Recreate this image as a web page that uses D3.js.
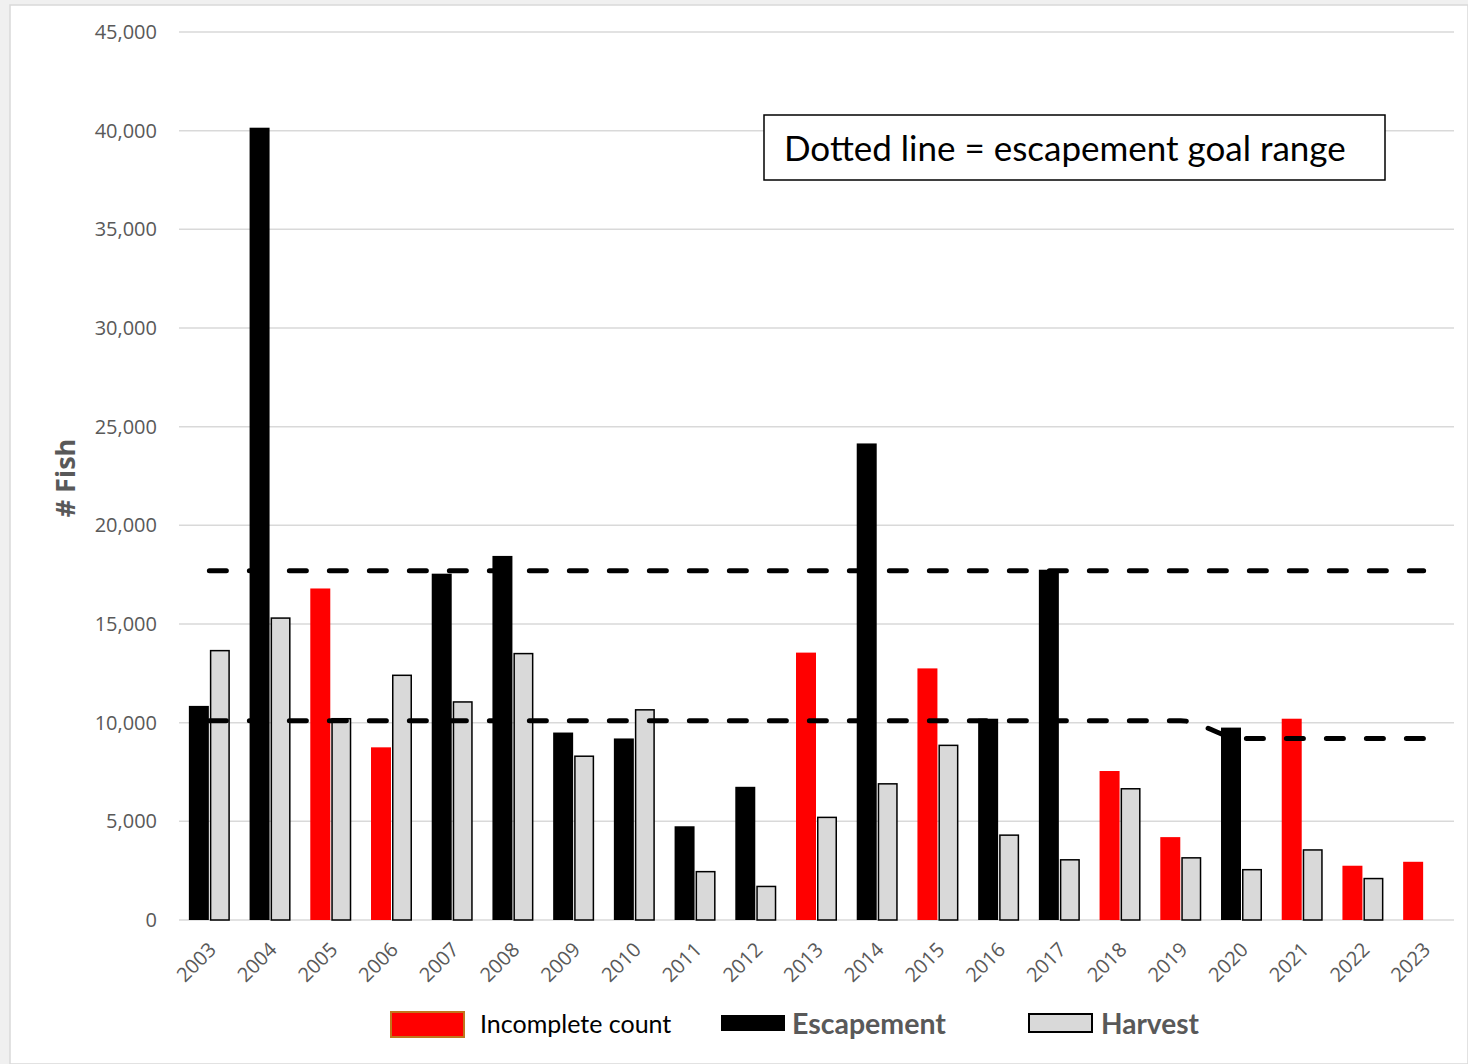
<!DOCTYPE html>
<html>
<head>
<meta charset="utf-8">
<script src="https://cdn.jsdelivr.net/npm/d3@7"></script>
<style>
  html, body { margin: 0; padding: 0; background: #f0f0f0; }
  svg { display: block; }
</style>
</head>
<body>
<svg id="chart" width="1468" height="1064"></svg>
<script>
// Run years
const years = ["2003","2004","2005","2006","2007","2008","2009","2010","2011","2012","2013",
               "2014","2015","2016","2017","2018","2019","2020","2021","2022","2023"];
// Escapement counts
const escapement = [10850, 40150, 16800, 8750, 17550, 18450, 9500, 9200, 4750, 6750, 13550,
                    24150, 12750, 10200, 17750, 7550, 4200, 9750, 10200, 2750, 2950];
// Years where the escapement count was incomplete
const incomplete = [false, false, true, true, false, false, false, false, false, false, true,
                    false, true, false, false, true, true, false, true, true, true];
// Harvest
const harvest = [13650, 15300, 10200, 12400, 11050, 13500, 8300, 10650, 2450, 1700, 5200,
                 6900, 8850, 4300, 3050, 6650, 3150, 2550, 3550, 2100, null];
// Escapement goal range
const goalLower = [10100, 10100, 10100, 10100, 10100, 10100, 10100, 10100, 10100, 10100, 10100,
                   10100, 10100, 10100, 10100, 10100, 10100, 9200, 9200, 9200, 9200];
const goalUpper = [17700, 17700, 17700, 17700, 17700, 17700, 17700, 17700, 17700, 17700, 17700,
                   17700, 17700, 17700, 17700, 17700, 17700, 17700, 17700, 17700, 17700];
// Y axis ticks
const yTicks = [0, 5000, 10000, 15000, 20000, 25000, 30000, 35000, 40000, 45000];

const svg = d3.select("#chart");
const W = 1468, H = 1064;
const margin = { left: 179, right: 14, top: 32, bottom: 144 };
const plotRight = W - margin.right;
const plotBottom = H - margin.bottom;

// white chart area with thin border
svg.append("rect").attr("x", 10).attr("y", 5).attr("width", W - 10).attr("height", H - 5)
  .attr("fill", "#ffffff").attr("stroke", "#d9d9d9").attr("stroke-width", 1.5);

const x0 = d3.scaleBand().domain(years).range([margin.left, plotRight]).padding(0);
const x1 = d3.scaleBand().domain(["esc", "harv"]).range([0, x0.bandwidth()])
  .paddingInner(0.048).paddingOuter(0.47);
const y = d3.scaleLinear().domain([0, 45000]).range([plotBottom, margin.top]);

const fmt = d3.format(",");
const tickFont = "'Open Sans', 'Noto Sans', sans-serif";
const textFont = "Lato, 'Open Sans', sans-serif";

// gridlines
svg.append("g").selectAll("line").data(yTicks).join("line")
  .attr("x1", margin.left).attr("x2", plotRight)
  .attr("y1", d => y(d)).attr("y2", d => y(d))
  .attr("stroke", "#d9d9d9").attr("stroke-width", 1.5);

// y tick labels
svg.append("g").selectAll("text").data(yTicks).join("text")
  .attr("x", 157).attr("y", d => y(d)).attr("dy", "0.35em")
  .attr("text-anchor", "end")
  .attr("font-family", tickFont).attr("font-size", 20).attr("fill", "#595959")
  .text(d => fmt(d));

// y axis title
svg.append("text")
  .attr("transform", "translate(75,478) rotate(-90)")
  .attr("text-anchor", "middle")
  .attr("font-family", tickFont).attr("font-weight", "bold").attr("font-size", 27)
  .attr("fill", "#595959").text("# Fish");

// x labels
svg.append("g").selectAll("text").data(years).join("text")
  .attr("transform", d => `translate(${x0(d) + x0.bandwidth() / 2 + 3},${plotBottom + 26}) rotate(-45)`)
  .attr("text-anchor", "end").attr("dy", "0.35em")
  .attr("font-family", tickFont).attr("font-size", 20).attr("fill", "#595959")
  .text(d => d);

const rows = years.map((yr, i) => ({ yr, esc: escapement[i], inc: incomplete[i], harv: harvest[i] }));

// escapement bars
svg.append("g").selectAll("rect").data(rows).join("rect")
  .attr("x", d => x0(d.yr) + x1("esc"))
  .attr("width", x1.bandwidth())
  .attr("y", d => y(d.esc))
  .attr("height", d => plotBottom - y(d.esc))
  .attr("fill", d => d.inc ? "#ff0000" : "#000000");

// harvest bars
svg.append("g").selectAll("rect").data(rows.filter(d => d.harv != null)).join("rect")
  .attr("x", d => x0(d.yr) + x1("harv") + 0.75)
  .attr("width", x1.bandwidth() - 1.5)
  .attr("y", d => y(d.harv))
  .attr("height", d => plotBottom - y(d.harv))
  .attr("fill", "#d9d9d9").attr("stroke", "#000000").attr("stroke-width", 1.5);

// goal range lines (smoothed)
const goalLine = d3.line()
  .x((d, i) => x0(years[i]) + x0.bandwidth() / 2)
  .y(d => y(d))
  .curve(d3.curveMonotoneX);
[goalUpper, goalLower].forEach(arr => {
  svg.append("path").attr("d", goalLine(arr))
    .attr("fill", "none").attr("stroke", "#000000").attr("stroke-width", 5)
    .attr("stroke-linecap", "round").attr("stroke-dasharray", "17,23");
});

// annotation box
svg.append("rect").attr("x", 764).attr("y", 115).attr("width", 621).attr("height", 65)
  .attr("fill", "#ffffff").attr("stroke", "#000000").attr("stroke-width", 1.5);
svg.append("text").attr("x", 784).attr("y", 161)
  .attr("font-family", textFont).attr("font-size", 35).attr("fill", "#000000")
  .text("Dotted line = escapement goal range");

// legend
const lg = svg.append("g");
lg.append("rect").attr("x", 391).attr("y", 1012).attr("width", 73).attr("height", 25)
  .attr("fill", "#ff0000").attr("stroke", "#c0761c").attr("stroke-width", 2);
lg.append("text").attr("x", 480).attr("y", 1033)
  .attr("font-family", textFont).attr("font-size", 25).attr("fill", "#000000")
  .text("Incomplete count");
lg.append("rect").attr("x", 721).attr("y", 1015).attr("width", 64).attr("height", 16)
  .attr("fill", "#000000");
lg.append("text").attr("x", 792).attr("y", 1034)
  .attr("font-family", textFont).attr("font-weight", "bold").attr("font-size", 28.5)
  .attr("fill", "#595959").text("Escapement");
lg.append("rect").attr("x", 1029).attr("y", 1014).attr("width", 63).attr("height", 18)
  .attr("fill", "#d9d9d9").attr("stroke", "#000000").attr("stroke-width", 2);
lg.append("text").attr("x", 1101).attr("y", 1034)
  .attr("font-family", textFont).attr("font-weight", "bold").attr("font-size", 28)
  .attr("fill", "#595959").text("Harvest");
</script>
</body>
</html>
